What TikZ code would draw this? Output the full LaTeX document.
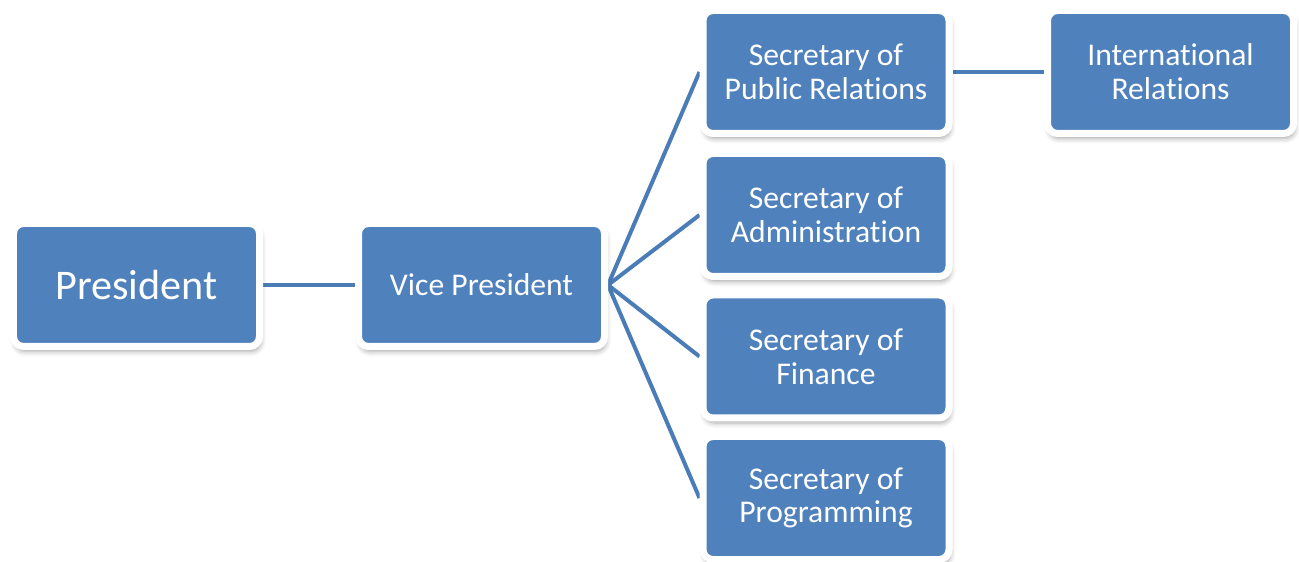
\documentclass[tikz,border=0pt]{standalone}
\usepackage{fontspec}
\setmainfont{Carlito}[Ligatures=NoCommon]
\usetikzlibrary{shadows.blur,backgrounds}
\definecolor{boxblue}{HTML}{4F81BD}
\definecolor{linkblue}{HTML}{4A7DB8}
\begin{document}
\begin{tikzpicture}[
    post/.style={draw=white,line width=0.14cm,fill=boxblue,rounded corners=0.2cm,
      minimum width=4.92cm,minimum height=2.46cm,text=white,align=center,
      font=\fontsize{18}{19.2}\selectfont,
      blur shadow={shadow xshift=0.03cm,shadow yshift=-0.1cm,shadow blur radius=0.1cm,shadow opacity=35}},
    link/.style={draw=linkblue,line width=0.08cm}]
  \useasboundingbox (0,0) rectangle (25.98,-11.24);
  % the chain of posts
  \node[post,font=\fontsize{24}{28}\selectfont] (pres) at (2.73,-5.70) {President};
  \node[post] (vp) at (9.63,-5.70) {Vice President};
  \node[post] (pr) at (16.52,-1.44) {Secretary of\\Public Relations};
  \node[post] (adm) at (16.52,-4.30) {Secretary of\\Administration};
  \node[post] (fin) at (16.52,-7.13) {Secretary of\\Finance};
  \node[post] (prog) at (16.52,-9.96) {Secretary of\\Programming};
  \node[post] (ir) at (23.41,-1.44) {International\\Relations};
  % connectors behind the boxes
  \begin{scope}[on background layer]
    \draw[link] (pres) -- (vp);
    \foreach \s in {pr,adm,fin,prog}
      {\draw[link] (vp.east) -- (\s.west);}
    \draw[link] (pr) -- (ir);
  \end{scope}
\end{tikzpicture}
\end{document}
